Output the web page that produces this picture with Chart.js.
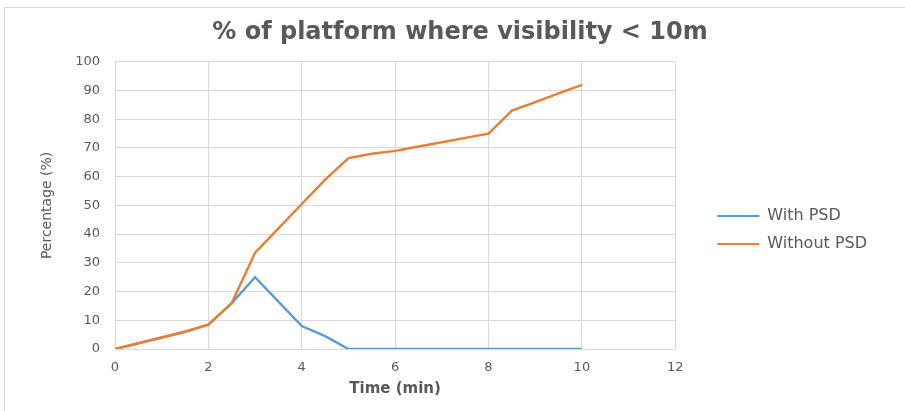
<!DOCTYPE html>
<html>
<head>
<meta charset="utf-8">
<script src="https://cdn.jsdelivr.net/npm/chart.js@4.4.1/dist/chart.umd.min.js"></script>
<style>
  body { margin: 0; background: #fff; }
  #box { position: absolute; left: 4px; top: 7px; width: 900px; height: 403px; border: 1px solid #d9d9d9; }
</style>
</head>
<body>
<div id="box"><canvas id="myChart" width="900" height="403"></canvas></div>
<script>
"use strict";

// temps en minutes
const times = [0, 0.5, 1, 1.5, 2, 2.5, 3, 3.5, 4, 4.5, 5, 5.5, 6, 6.5, 7, 7.5, 8, 8.5, 9, 9.5, 10];
const withPSD = [0, 2, 4, 6, 8.5, 16, 25, 16.5, 8, 4.5, 0, 0, 0, 0, 0, 0, 0, 0, 0, 0, 0];
const withoutPSD = [0, 2, 4, 6, 8.5, 16, 33.5, 42, 50.5, 59, 66.5, 68, 69, 70.5, 72, 73.5, 75, 83, 86, 89, 92];
const xTicks = [0, 2, 4, 6, 8, 10, 12];
const yTicks = [0, 10, 20, 30, 40, 50, 60, 70, 80, 90, 100];

const grey = "#595959";
const gridColor = "#d9d9d9";
const ctx = document.getElementById("myChart");

function toPoints(values) {
    return values.map((v, i) => ({x: times[i], y: v}));
}

// petit decalage du titre et de la legende, comme dans l'original
const nudge = {
    id: "nudge",
    afterLayout(chart) {
        chart.titleBlock.right += 38;
        chart.legend.top += 24;
        chart.legend.bottom += 24;
    }
};

let chart = new Chart(ctx, {
    type: "line",
    data: {
        datasets: [{
            label: "With PSD",
            data: toPoints(withPSD),
            borderColor: "#5b9bd5",
            backgroundColor: "#5b9bd5",
            order: 2
        }, {
            label: "Without PSD",
            data: toPoints(withoutPSD),
            borderColor: "#ed7d31",
            backgroundColor: "#ed7d31",
            order: 1
        }]
    },
    plugins: [nudge],
    options: {
        responsive: false,
        animation: false,
        events: [],
        layout: { padding: { left: 0, right: 28, top: 0, bottom: 7 } },
        elements: {
            line: { borderWidth: 2.4, tension: 0 },
            point: { radius: 0 }
        },
        plugins: {
            title: {
                display: true,
                text: "% of platform where visibility < 10m",
                color: grey,
                font: { family: "DejaVu Sans", size: 24, weight: "bold" },
                padding: { top: 10, bottom: 15 }
            },
            legend: {
                position: "right",
                maxWidth: 220,
                labels: {
                    color: grey,
                    font: { family: "DejaVu Sans", size: 16 },
                    boxWidth: 42,
                    boxHeight: 2,
                    padding: 12,
                    sort: (a, b) => a.datasetIndex - b.datasetIndex,
                    generateLabels: function(chart) {
                        return Chart.defaults.plugins.legend.labels.generateLabels(chart)
                            .map(item => Object.assign(item, { lineWidth: 0 }));
                    }
                }
            },
            tooltip: { enabled: false }
        },
        scales: {
            x: {
                type: "linear",
                min: 0,
                max: 12,
                afterBuildTicks: scale => { scale.ticks = xTicks.map(v => ({value: v})); },
                grid: { color: gridColor, drawTicks: false },
                border: { color: gridColor },
                ticks: { color: grey, padding: 11, font: { family: "DejaVu Sans", size: 13 } },
                title: {
                    display: true,
                    text: "Time (min)",
                    color: grey,
                    font: { family: "DejaVu Sans", size: 15, weight: "bold" },
                    padding: { top: 0, bottom: 6 }
                },
                afterFit: scale => { scale.height = 55; }
            },
            y: {
                min: 0,
                max: 100,
                afterBuildTicks: scale => { scale.ticks = yTicks.map(v => ({value: v})); },
                grid: { color: gridColor, drawTicks: false },
                border: { color: gridColor },
                ticks: { color: grey, padding: 15, font: { family: "DejaVu Sans", size: 13 } },
                title: {
                    display: true,
                    text: "Percentage (%)",
                    color: grey,
                    font: { family: "DejaVu Sans", size: 14 },
                    padding: { top: 34, bottom: 0 }
                },
                afterFit: scale => { scale.width = 110; }
            },
            gap: {
                type: "linear",
                position: "right",
                grid: { display: false },
                border: { display: false },
                ticks: { display: false },
                afterFit: scale => { scale.width = 30; }
            }
        }
    }
});
</script>
</body>
</html>
